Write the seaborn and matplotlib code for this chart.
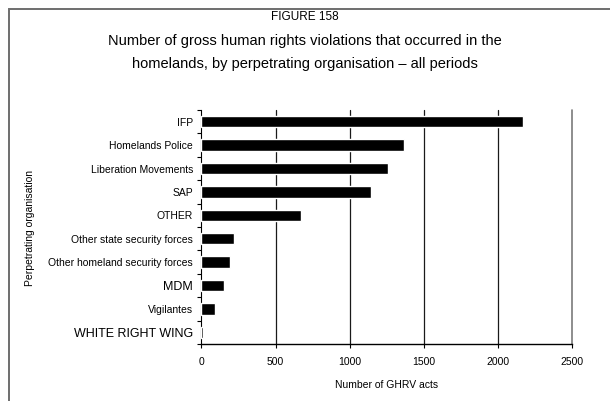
import matplotlib
matplotlib.use("Agg")
import matplotlib.pyplot as plt
import matplotlib.patches as patches
from matplotlib.ticker import FixedLocator
import numpy as np
import pandas as pd
import seaborn as sns

organisations = ["IFP", "Homelands Police", "Liberation Movements", "SAP", "OTHER",
                 "Other state security forces", "Other homeland security forces",
                 "MDM", "Vigilantes", "WHITE RIGHT WING"]
acts = [2170, 1365, 1258, 1145, 673, 222, 193, 150, 88, 10]
x_ticks = [0, 500, 1000, 1500, 2000, 2500]

sns.set_style("white")
plt.rcParams['font.family'] = ['Liberation Sans', 'DejaVu Sans']
plt.rcParams['text.color'] = 'black'
plt.rcParams['xtick.color'] = 'black'
plt.rcParams['ytick.color'] = 'black'
plt.rcParams['axes.labelcolor'] = 'black'

df = pd.DataFrame({"org": organisations, "acts": acts})

fig = plt.figure(figsize=(6.10, 4.01), dpi=100)
ax = fig.add_axes([0.3303, 0.1421, 0.6074, 0.5836])

sns.barplot(data=df, x="acts", y="org", orient="h", color="black",
            saturation=1, width=0.48, ax=ax, zorder=3)

ax.set_xlim(0, 2500)
ax.set_ylim(len(organisations) - 0.5, -0.5)
ax.xaxis.set_major_locator(FixedLocator(x_ticks))
for v in x_ticks[1:]:
    ax.axvline(v, color="#1a1a1a" if v < 2500 else "#7a7a7a",
               lw=0.9 if v < 2500 else 1.2, zorder=1, clip_on=False)

for s in ["top", "right"]:
    ax.spines[s].set_visible(False)
ax.spines["left"].set_color("black")
ax.spines["left"].set_linewidth(0.8)
ax.spines["bottom"].set_color("black")
ax.spines["bottom"].set_linewidth(1.0)

# ticks on the category boundaries, labels at the centres
ax.yaxis.set_minor_locator(FixedLocator(np.arange(-0.5, len(organisations), 1.0)))
ax.tick_params(axis="y", which="major", length=0, pad=6, labelsize=7.5)
ax.tick_params(axis="y", which="minor", length=3, width=0.8, direction="out", left=True)
ax.tick_params(axis="x", which="major", length=3, width=0.8, direction="out",
               bottom=True, labelsize=7.5, pad=6)
for lab in ax.get_yticklabels():
    if lab.get_text() in ("MDM", "WHITE RIGHT WING"):
        lab.set_fontsize(9)

ax.set_xlabel("Number of GHRV acts", fontsize=7.5, labelpad=10)
ax.set_ylabel("")
fig.text(0.049, 0.431, "Perpetrating organisation", rotation=90, fontsize=7.5,
         ha="center", va="center")

fig.text(0.5, 0.957, "FIGURE 158", ha="center", va="center", fontsize=8.5)
fig.text(0.5, 0.897, "Number of gross human rights violations that occurred in the",
         ha="center", va="center", fontsize=10.5)
fig.text(0.5, 0.840, "homelands, by perpetrating organisation \u2013 all periods",
         ha="center", va="center", fontsize=10.5)

# page frame
frame = patches.Rectangle((8.5 / 610, -0.05), 1.1, 1 - 9 / 401 + 0.05,
                          transform=fig.transFigure, fill=False,
                          edgecolor="#6e6e6e", lw=1.4, clip_on=False)
fig.patches.append(frame)

fig.savefig("out.png", dpi=100)
